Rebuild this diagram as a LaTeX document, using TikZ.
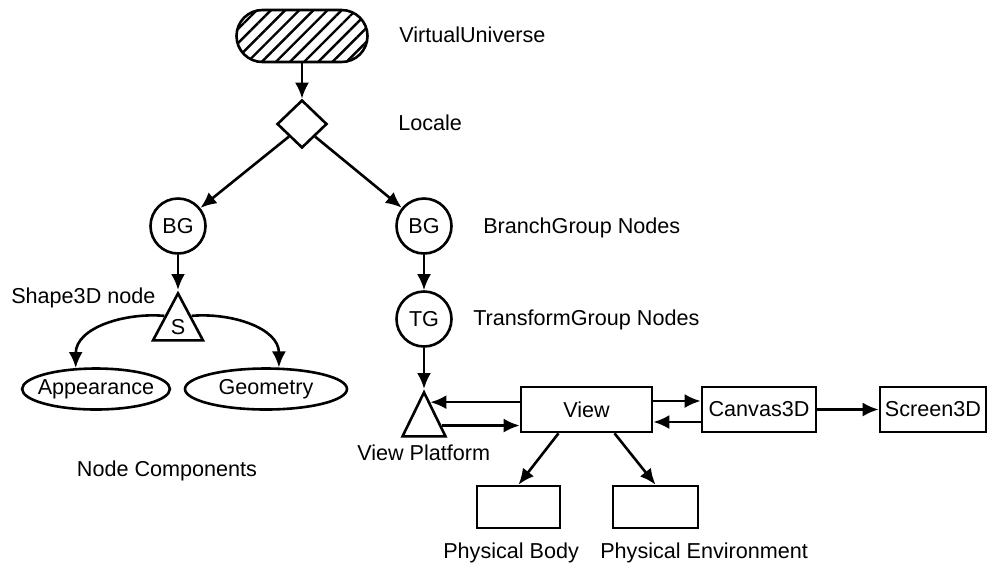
\documentclass[tikz,border=0pt]{standalone}
\usepackage{fontspec}
\setmainfont{Liberation Sans}
\usetikzlibrary{arrows.meta,calc,shapes.geometric,patterns.meta}

\begin{document}
\begin{tikzpicture}[x=0.5pt,y=-0.5pt,>={Latex[length=8pt,width=7pt]},line width=1.3pt,
  font=\fontsize{10.8}{13}\selectfont,
  grp/.style={circle,draw,minimum size=27.5pt,inner sep=0pt},
  tri/.style={isosceles triangle,isosceles triangle stretches,shape border rotate=90,
    draw,inner sep=0pt,anchor=apex},
  box/.style={rectangle,draw,minimum height=22.5pt,inner sep=0pt},
  comp/.style={ellipse,draw,minimum height=20.5pt,inner sep=0pt},
  lbl/.style={anchor=base west,inner sep=0pt}]
  \useasboundingbox (0,0) rectangle (988,564);
  % scene graph
  \node[draw,rounded corners=13pt,minimum width=65.5pt,minimum height=26pt,
    pattern={Lines[angle=45,distance=5pt,line width=1.2pt]}] (vu) at (302,36) {};
  \node[diamond,draw,minimum width=25pt,minimum height=24pt,inner sep=0pt] (loc) at (302,124) {};
  \node[grp] (bgl) at (178,226) {BG};
  \node[grp] (bgr) at (424,226) {BG};
  \node[grp] (tg) at (424,319) {TG};
  \node[tri,minimum width=25pt,minimum height=23.5pt] (shp) at (178,290) {S};
  \node[tri,minimum width=21.5pt,minimum height=22pt] (vp) at (424,389) {};
  \node[comp,minimum width=73.5pt,inner xsep=-3pt] (app) at (96,389) {Appearance};
  \node[comp,minimum width=81pt] (geo) at (266,389) {Geometry};
  % view side
  \node[box,minimum width=65.5pt] (view) at (586.5,409.5) {View};
  \node[box,minimum width=57pt] (cv) at (759,409.5) {Canvas3D};
  \node[box,minimum width=53pt] (scr) at (933,409.5) {Screen3D};
  \node[box,minimum width=41.5pt,minimum height=21pt] (pb) at (518.5,507) {};
  \node[box,minimum width=42.5pt,minimum height=21pt] (pe) at (655.5,507) {};
  % labels
  \node[lbl] (vulbl) at (398,42) {VirtualUniverse};
  \node[lbl] (loclbl) at (397,130) {Locale};
  \node[lbl] (bglbl) at (482,233) {BranchGroup Nodes};
  \node[lbl] (tglbl) at (472,325) {TransformGroup Nodes};
  \node[lbl] (shplbl) at (10,303) {Shape3D node};
  \node[lbl,anchor=base] (nclbl) at (167,476) {Node Components};
  \node[lbl] (vplbl) at (356,460) {View Platform};
  \node[lbl] (pblbl) at (442,558) {Physical Body};
  \node[lbl] (pelbl) at (599,558) {Physical Environment};
  % connectors
  \draw[->] (vu) -- (loc);
  \draw[->] (loc.south west) -- (bgl);
  \draw[->] (loc.south east) -- (bgr);
  \draw[->] (bgl) -- (shp.apex);
  \draw[->] (shp.left side) to[out=175,in=90] (app.134);
  \draw[->] (shp.right side) to[out=5,in=90] (geo.59);
  \draw[->] (bgr) -- (tg);
  \draw[->] (tg) -- (vp.apex);
  \draw[<-] ($(vp.apex)!0.27!(vp.right corner)$) coordinate (vpin) -- (vpin -| view.west);
  \draw[->] ($(vp.apex)!0.75!(vp.right corner)$) coordinate (vpout) -- (vpout -| view.west);
  \draw[->] ([yshift=4.25pt]view.east) -- ([yshift=4.25pt]cv.west);
  \draw[<-] ([yshift=-6.25pt]view.east) -- ([yshift=-6.25pt]cv.west);
  \draw[->] (cv) -- (scr);
  \draw[->] ($(view.south)+(-28,0)$) -- (pb.north);
  \draw[->] ($(view.south)+(28,0)$) -- (pe.north);
\end{tikzpicture}
\end{document}
